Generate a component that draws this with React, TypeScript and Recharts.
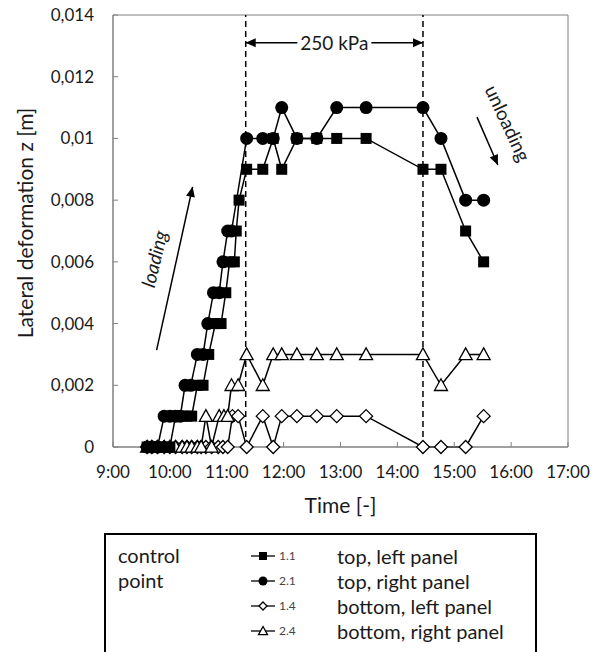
import React from 'react';
import { LineChart, Line, XAxis, YAxis, ReferenceLine, ReferenceDot, ReferenceArea } from 'recharts';

const toMin = (s: string) => {
  const [h, m] = s.split(':').map(Number);
  return h * 60 + m;
};

const xTicks = ['9:00', '10:00', '11:00', '12:00', '13:00', '14:00', '15:00', '16:00', '17:00'];
const yTicks = [0, 0.002, 0.004, 0.006, 0.008, 0.01, 0.012, 0.014];

// shared reading times after the load step
const lateTimes = ['11:21', '11:38', '11:49', '11:58', '12:14', '12:35', '12:56', '13:27', '14:27', '14:46', '15:12', '15:31'];

// 1.1 top, left panel
const early11 = ['9:36', '9:41', '9:47', '9:54', '10:00', '10:06', '10:13', '10:18', '10:23', '10:29', '10:35', '10:41', '10:48', '10:54', '10:59', '11:03', '11:08', '11:10', '11:13'];
const values11 = [0, 0, 0, 0, 0, 0.001, 0.001, 0.001, 0.001, 0.002, 0.002, 0.003, 0.004, 0.004, 0.005, 0.006, 0.006, 0.007, 0.008,
  0.009, 0.009, 0.01, 0.009, 0.01, 0.01, 0.01, 0.01, 0.009, 0.009, 0.007, 0.006];

// 2.1 top, right panel
const early21 = ['9:36', '9:41', '9:47', '9:54', '10:00', '10:06', '10:11', '10:16', '10:22', '10:29', '10:35', '10:40', '10:46', '10:52', '10:56', '11:01', '11:05'];
const values21 = [0, 0, 0, 0.001, 0.001, 0.001, 0.001, 0.002, 0.002, 0.003, 0.003, 0.004, 0.005, 0.005, 0.006, 0.007, 0.007,
  0.01, 0.01, 0.01, 0.011, 0.01, 0.01, 0.011, 0.011, 0.011, 0.01, 0.008, 0.008];

// 1.4 bottom, left panel
const early14 = ['9:36', '9:41', '9:47', '9:54', '10:00', '10:06', '10:13', '10:18', '10:23', '10:29', '10:33', '10:38', '10:44', '10:51', '10:56', '11:01', '11:06', '11:12'];
const values14 = [0, 0, 0, 0, 0, 0, 0, 0, 0, 0, 0, 0, 0, 0, 0, 0, 0.001, 0.001,
  0, 0.001, 0, 0.001, 0.001, 0.001, 0.001, 0.001, 0, 0, 0, 0.001];

// 2.4 bottom, right panel
const early24 = ['9:36', '9:41', '9:47', '9:54', '10:00', '10:06', '10:13', '10:18', '10:23', '10:29', '10:33', '10:38', '10:44', '10:52', '10:57', '11:01', '11:05', '11:12'];
const values24 = [0, 0, 0, 0, 0, 0, 0, 0, 0, 0, 0, 0.001, 0, 0.001, 0.001, 0.001, 0.002, 0.002,
  0.003, 0.002, 0.003, 0.003, 0.003, 0.003, 0.003, 0.003, 0.003, 0.002, 0.003, 0.003];

const build = (early: string[], values: number[]) =>
  [...early, ...lateTimes].map((t, i) => ({ t: toMin(t), v: values[i] }));

const s11 = build(early11, values11);
const s21 = build(early21, values21);
const s14 = build(early14, values14);
const s24 = build(early24, values24);

const font = 'Lato, "Open Sans", sans-serif';
const ink = '#1a1a1a';

const Square = ({ cx, cy, s }: any) => <rect x={cx - s / 2} y={cy - s / 2} width={s} height={s} fill="#000" />;
const Circle = ({ cx, cy, r }: any) => <circle cx={cx} cy={cy} r={r} fill="#000" />;
const Diamond = ({ cx, cy, r }: any) => (
  <polygon points={`${cx},${cy - r} ${cx + r},${cy} ${cx},${cy + r} ${cx - r},${cy}`} fill="#fff" stroke="#000" strokeWidth={1.3} />
);
const Triangle = ({ cx, cy, r }: any) => (
  <polygon points={`${cx},${cy - r} ${cx + r},${cy + r * 0.8} ${cx - r},${cy + r * 0.8}`} fill="#fff" stroke="#000" strokeWidth={1.3} />
);

const arrowHead = (x1: number, y1: number, x2: number, y2: number, len = 10, half = 4.5) => {
  const a = Math.atan2(y2 - y1, x2 - x1);
  const bx = x2 - len * Math.cos(a);
  const by = y2 - len * Math.sin(a);
  const px = -Math.sin(a) * half;
  const py = Math.cos(a) * half;
  return <polygon points={`${x2},${y2} ${bx + px},${by + py} ${bx - px},${by - py}`} fill="#000" />;
};

const SingleArrow = (p: any) => (
  <g>
    <line x1={p.x1} y1={p.y1} x2={p.x2} y2={p.y2} stroke="#000" strokeWidth={1.5} />
    {arrowHead(p.x1, p.y1, p.x2, p.y2)}
  </g>
);

const LoadArrow = (p: any) => {
  const mid = (p.x1 + p.x2) / 2;
  const gap = 37;
  return (
    <g>
      <line x1={p.x1} y1={p.y1} x2={mid - gap} y2={p.y2} stroke="#000" strokeWidth={1.5} />
      <line x1={mid + gap} y1={p.y1} x2={p.x2} y2={p.y2} stroke="#000" strokeWidth={1.5} />
      {arrowHead(mid - gap, p.y1, p.x1, p.y1)}
      {arrowHead(mid + gap, p.y2, p.x2, p.y2)}
      <rect x={mid - 35} y={p.y1 - 15} width={70} height={30} fill="#fff" />
      <text x={mid} y={p.y1} textAnchor="middle" dominantBaseline="central" fontFamily={font} fontSize={19} fill={ink}>
        250 kPa
      </text>
    </g>
  );
};

const rotatedText = (label: string, angle: number, italic: boolean) => (p: any) => (
  <text
    x={p.cx}
    y={p.cy}
    transform={`rotate(${angle} ${p.cx} ${p.cy})`}
    textAnchor="middle"
    dominantBaseline="central"
    fontFamily={font}
    fontSize={19}
    fontStyle={italic ? 'italic' : 'normal'}
    fill={ink}
  >
    {label}
  </text>
);

const legendRows = [
  { id: '1.1', text: 'top, left panel' },
  { id: '2.1', text: 'top, right panel' },
  { id: '1.4', text: 'bottom, left panel' },
  { id: '2.4', text: 'bottom, right panel' },
];

const LegendMark = ({ id }: { id: string }) => (
  <svg width={26} height={14} style={{ display: 'block' }}>
    <line x1={1} y1={7} x2={25} y2={7} stroke="#000" strokeWidth={1.3} />
    {id === '1.1' && <Square cx={13} cy={7} s={8} />}
    {id === '2.1' && <Circle cx={13} cy={7} r={4.5} />}
    {id === '1.4' && <Diamond cx={13} cy={7} r={4} />}
    {id === '2.4' && <Triangle cx={13} cy={7} r={4.5} />}
  </svg>
);

const yFormat = (v: number) => (v === 0 ? '0' : v.toFixed(3).replace(/0+$/, '').replace('.', ','));
const xFormat = (m: number) => xTicks.find((t) => toMin(t) === m) ?? '';

export default function App() {
  return (
    <div style={{ position: 'relative', width: 595, height: 652, overflow: 'hidden', background: '#fff', fontFamily: font }}>
      <style>{'body{margin:0}'}</style>
      <LineChart width={595} height={530} margin={{ top: 15, right: 27, bottom: 0, left: 0 }}>
        <XAxis
          dataKey="t"
          type="number"
          domain={[540, 1020]}
          ticks={xTicks.map(toMin)}
          tickFormatter={xFormat}
          height={83}
          tickSize={-5}
          tickMargin={24}
          stroke="#808080"
          tick={{ fill: ink, fontSize: 17, fontFamily: font }}
          label={(p: any) => (
            <text
              x={p.viewBox.x + p.viewBox.width / 2}
              y={p.viewBox.y + 57}
              textAnchor="middle"
              dominantBaseline="central"
              fontFamily={font}
              fontSize={21}
              fill={ink}
            >
              Time [-]
            </text>
          )}
        />
        <YAxis
          type="number"
          domain={[0, 0.014]}
          ticks={yTicks}
          tickFormatter={yFormat}
          width={113}
          tickSize={-5}
          tickMargin={24}
          stroke="#808080"
          tick={{ fill: ink, fontSize: 17, fontFamily: font }}
          label={(p: any) => {
            const x = p.viewBox.x + 24;
            const y = p.viewBox.y + p.viewBox.height / 2 - 8;
            return (
              <text
                x={x}
                y={y}
                transform={`rotate(-90 ${x} ${y})`}
                textAnchor="middle"
                dominantBaseline="central"
                fontFamily={font}
                fontSize={21}
                fill={ink}
              >
                Lateral deformation z [m]
              </text>
            );
          }}
        />
        <ReferenceArea x1={540} x2={1020} y1={0} y2={0.014} fill="none" stroke="#808080" strokeWidth={1} />
        <ReferenceLine x={toMin('11:20')} stroke="#000" strokeWidth={1.5} strokeDasharray="6 4" />
        <ReferenceLine x={toMin('14:27')} stroke="#000" strokeWidth={1.5} strokeDasharray="6 4" />
        <ReferenceLine
          segment={[{ x: toMin('11:20'), y: 0.0131 }, { x: toMin('14:27'), y: 0.0131 }]}
          shape={LoadArrow}
        />
        <ReferenceLine
          segment={[{ x: toMin('9:46'), y: 0.00314 }, { x: toMin('10:24'), y: 0.00843 }]}
          shape={SingleArrow}
        />
        <ReferenceLine
          segment={[{ x: toMin('15:24'), y: 0.01069 }, { x: toMin('15:46'), y: 0.00914 }]}
          shape={SingleArrow}
        />
        <ReferenceDot x={toMin('9:43')} y={0.0061} r={0} shape={rotatedText('loading', -77, true)} />
        <ReferenceDot x={toMin('15:57')} y={0.0105} r={0} shape={rotatedText('unloading', 65, false)} />
        <Line
          data={s14}
          dataKey="v"
          name="1.4"
          stroke="#000"
          strokeWidth={1.5}
          isAnimationActive={false}
          activeDot={false}
          dot={(p: any) => <Diamond key={`d${p.index}`} cx={p.cx} cy={p.cy} r={6.5} />}
        />
        <Line
          data={s24}
          dataKey="v"
          name="2.4"
          stroke="#000"
          strokeWidth={1.5}
          isAnimationActive={false}
          activeDot={false}
          dot={(p: any) => <Triangle key={`t${p.index}`} cx={p.cx} cy={p.cy} r={6.5} />}
        />
        <Line
          data={s21}
          dataKey="v"
          name="2.1"
          stroke="#000"
          strokeWidth={1.5}
          isAnimationActive={false}
          activeDot={false}
          dot={(p: any) => <Circle key={`c${p.index}`} cx={p.cx} cy={p.cy} r={6.5} />}
        />
        <Line
          data={s11}
          dataKey="v"
          name="1.1"
          stroke="#000"
          strokeWidth={1.5}
          isAnimationActive={false}
          activeDot={false}
          dot={(p: any) => <Square key={`s${p.index}`} cx={p.cx} cy={p.cy} s={11} />}
        />
      </LineChart>
      <div
        style={{
          position: 'absolute',
          left: 104,
          top: 533,
          width: 429,
          height: 140,
          border: '2px solid #000',
          color: ink,
          fontSize: 20,
        }}
      >
        <div style={{ position: 'absolute', left: 12, top: 8, lineHeight: '25px' }}>
          control
          <br />
          point
        </div>
        {legendRows.map((r, i) => (
          <div key={r.id} style={{ position: 'absolute', left: 144, top: 8 + i * 25, height: 25, display: 'flex', alignItems: 'center' }}>
            <LegendMark id={r.id} />
            <span style={{ fontSize: 12, color: '#444', marginLeft: 3, width: 58 }}>{r.id}</span>
            <span>{r.text}</span>
          </div>
        ))}
      </div>
    </div>
  );
}
